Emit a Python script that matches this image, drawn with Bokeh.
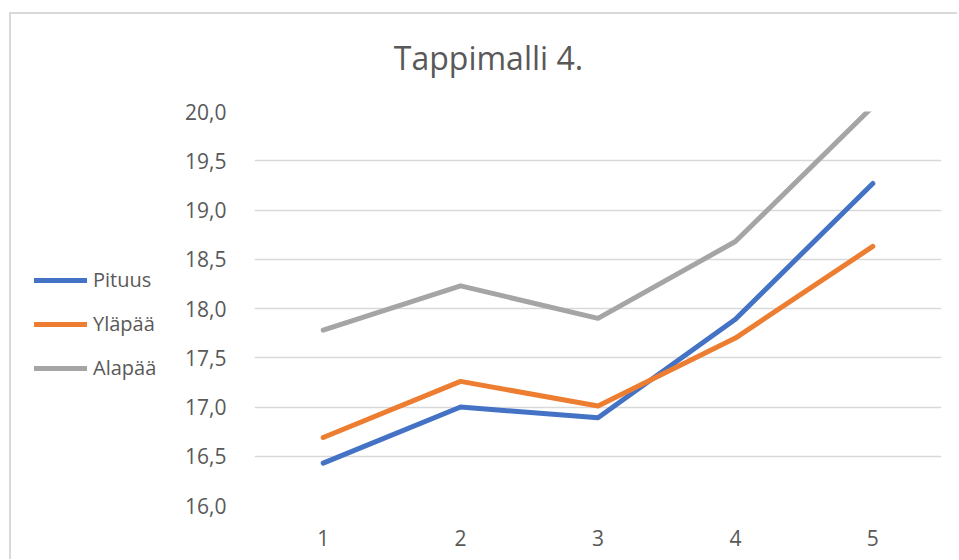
from bokeh.plotting import figure
from bokeh.layouts import row, column
from bokeh.models import Range1d, FixedTicker, Legend, LegendItem, Label
from bokeh.embed import file_html
from bokeh.resources import INLINE

# ---- data ----
categories = [1, 2, 3, 4, 5]
pituus = [16.43, 17.00, 16.89, 17.89, 19.27]
ylapaa = [16.69, 17.26, 17.01, 17.70, 18.63]
alapaa = [17.78, 18.23, 17.90, 18.68, 20.05]
series_names = ["Pituus", "Yläpää", "Alapää"]
series_colors = ["#4472C4", "#ED7D31", "#A5A5A5"]
y_ticks = [16.0, 16.5, 17.0, 17.5, 18.0, 18.5, 19.0, 19.5, 20.0]
y_tick_labels = ["16,0", "16,5", "17,0", "17,5", "18,0", "18,5", "19,0", "19,5", "20,0"]
x_tick_labels = ["1", "2", "3", "4", "5"]
title_text = "Tappimalli 4."

FONT = "Open Sans"
GREY = "#595959"

W = 946
H_HEAD = 70
H = 545 - H_HEAD
W_LEG = 164
W_MAIN = W - W_LEG


def bare(fig):
    fig.outline_line_color = None
    fig.background_fill_color = "white"
    fig.border_fill_color = "white"
    fig.xgrid.visible = False
    fig.ygrid.visible = False


# ---- header with the title ----
ph = figure(width=W, height=H_HEAD, output_backend="svg", toolbar_location=None,
            x_axis_type=None, y_axis_type=None, min_border=0,
            x_range=Range1d(0, W), y_range=Range1d(0, H_HEAD))
bare(ph)
ph.add_layout(Label(x=477, y=27, text=title_text, text_font=FONT,
                    text_font_size="32px", text_color=GREY,
                    text_align="center", text_baseline="alphabetic"))

# ---- main chart ----
p = figure(width=W_MAIN, height=H, output_backend="svg", toolbar_location=None,
           x_range=Range1d(0.5, 5.5), y_range=Range1d(16.0, 20.0),
           min_border_left=79, min_border_right=16,
           min_border_top=111 - 14 - H_HEAD, min_border_bottom=54)
p.outline_line_color = None
p.background_fill_color = "white"
p.border_fill_color = "white"

p.yaxis.ticker = FixedTicker(ticks=y_ticks)
p.yaxis.major_label_overrides = {t: l for t, l in zip(y_ticks, y_tick_labels)}
p.xaxis.ticker = FixedTicker(ticks=categories)
p.xaxis.major_label_overrides = {c: l for c, l in zip(categories, x_tick_labels)}
for ax in (p.xaxis, p.yaxis):
    ax.axis_line_color = None
    ax.major_tick_line_color = None
    ax.minor_tick_line_color = None
    ax.major_label_text_font = FONT
    ax.major_label_text_font_size = "21px"
    ax.major_label_text_color = GREY
p.yaxis.major_label_standoff = 22
p.xaxis.major_label_standoff = 18

p.xgrid.grid_line_color = None
p.ygrid.grid_line_color = "#d9d9d9"
p.ygrid.grid_line_width = 1.5
p.ygrid.ticker = FixedTicker(ticks=y_ticks)

series = [pituus, ylapaa, alapaa]
for name, color, ys in zip(series_names, series_colors, series):
    p.line(categories, ys, line_color=color, line_width=5,
           line_cap="round", line_join="round")

# ---- legend panel (left of the chart) ----
# the same series are drawn here, outside the visible range, only to feed the legend
pl = figure(width=W_LEG, height=H, output_backend="svg", toolbar_location=None,
            x_axis_type=None, y_axis_type=None, min_border=0,
            x_range=Range1d(100, 101), y_range=Range1d(100, 101))
bare(pl)

items = []
for name, color, ys in zip(series_names, series_colors, series):
    r = pl.line(categories, ys, line_color=color, line_width=5, line_cap="round")
    items.append(LegendItem(label=name, renderers=[r]))

legend = Legend(items=items, location=(23, 124))
legend.label_text_font = FONT
legend.label_text_font_size = "20px"
legend.label_text_color = GREY
legend.glyph_width = 53
legend.glyph_height = 20
legend.label_height = 20
legend.label_standoff = 6
legend.spacing = 17
legend.padding = 0
legend.margin = 0
legend.border_line_color = None
legend.background_fill_alpha = 0
pl.add_layout(legend, "center")

layout = column(ph, row(pl, p, spacing=0), spacing=0)
layout.margin = (12, 0, 0, 9)
layout.styles = {"border-left": "2px solid #d9d9d9", "border-top": "2px solid #d9d9d9"}

open("out.html", "w").write(file_html(layout, INLINE))
